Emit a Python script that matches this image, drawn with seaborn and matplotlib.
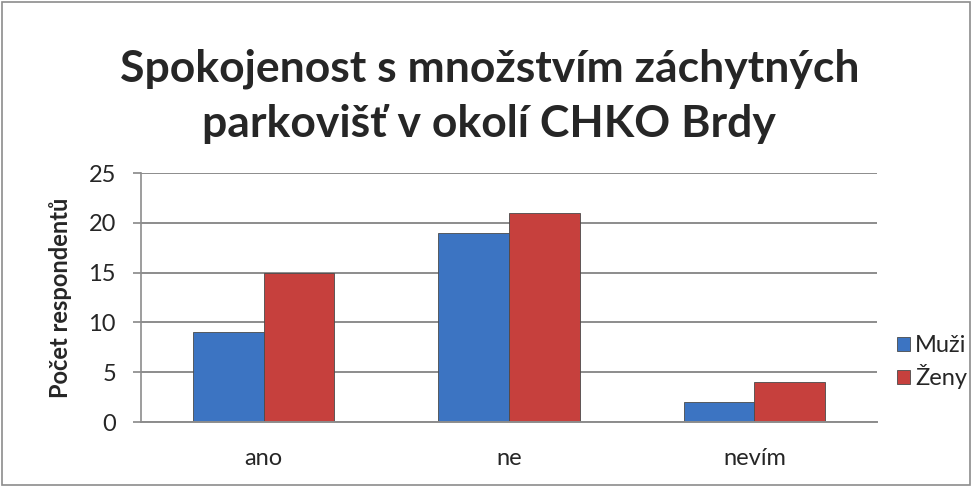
import numpy as np, pandas as pd
import matplotlib
matplotlib.use("Agg")
import matplotlib.pyplot as plt
import seaborn as sns

kategorie = ["ano", "ne", "nevím"]
muzi = [9, 19, 2]
zeny = [15, 21, 4]
skupiny = ["Muži", "Ženy"]
barvy = ["#3c74c2", "#c6403d"]

df = pd.DataFrame({
    "odpoved": kategorie * 2,
    "pocet": muzi + zeny,
    "pohlavi": [skupiny[0]] * 3 + [skupiny[1]] * 3,
})

sns.set_theme(style="white")
plt.rcParams['font.family'] = ['Lato', 'DejaVu Sans']

fig = plt.figure(figsize=(9.73, 4.86), dpi=100)
ax = fig.add_axes([141 / 973, 1 - 422 / 486, (877 - 141) / 973, (422 - 173) / 486])

sns.barplot(data=df, x="odpoved", y="pocet", hue="pohlavi", palette=barvy,
            width=0.575, gap=0, ax=ax, edgecolor="#4a4a4a", linewidth=0.6,
            saturation=1)

ax.set_ylim(0, 25)
ax.set_yticks(range(0, 26, 5))
ax.yaxis.grid(True, color="#8c8c8c", linewidth=1.4)
ax.set_axisbelow(True)
for s in ["top", "right"]:
    ax.spines[s].set_visible(False)
ax.spines["left"].set_color("#8c8c8c")
ax.spines["bottom"].set_color("#8c8c8c")
ax.spines["left"].set_linewidth(1.2)
ax.spines["bottom"].set_linewidth(1.4)
ax.tick_params(axis="y", left=True, length=6, color="#8c8c8c", labelsize=17, pad=12)
ax.tick_params(axis="x", bottom=False, labelsize=17, pad=13)
ax.set_xlabel("")
ax.set_ylabel("Počet respondentů", fontsize=17, fontweight="bold", labelpad=12)

leg = ax.legend(loc="center left", bbox_to_anchor=(1.005, 0.24), frameon=False,
                fontsize=17, handlelength=0.55, handleheight=0.55,
                handletextpad=0.2, labelspacing=0.35, borderaxespad=0.3)

fig.text(0.503, 0.90, "Spokojenost s množstvím záchytných\nparkovišť v okolí CHKO Brdy",
         ha="center", va="top", fontsize=32, fontweight="bold", linespacing=1.45)

fig.patches.append(plt.Rectangle((0.002, 0.003), 0.995, 0.993, transform=fig.transFigure,
                                 fill=False, edgecolor="#8c8c8c", linewidth=1.2))

fig.savefig("out.png", dpi=100)
